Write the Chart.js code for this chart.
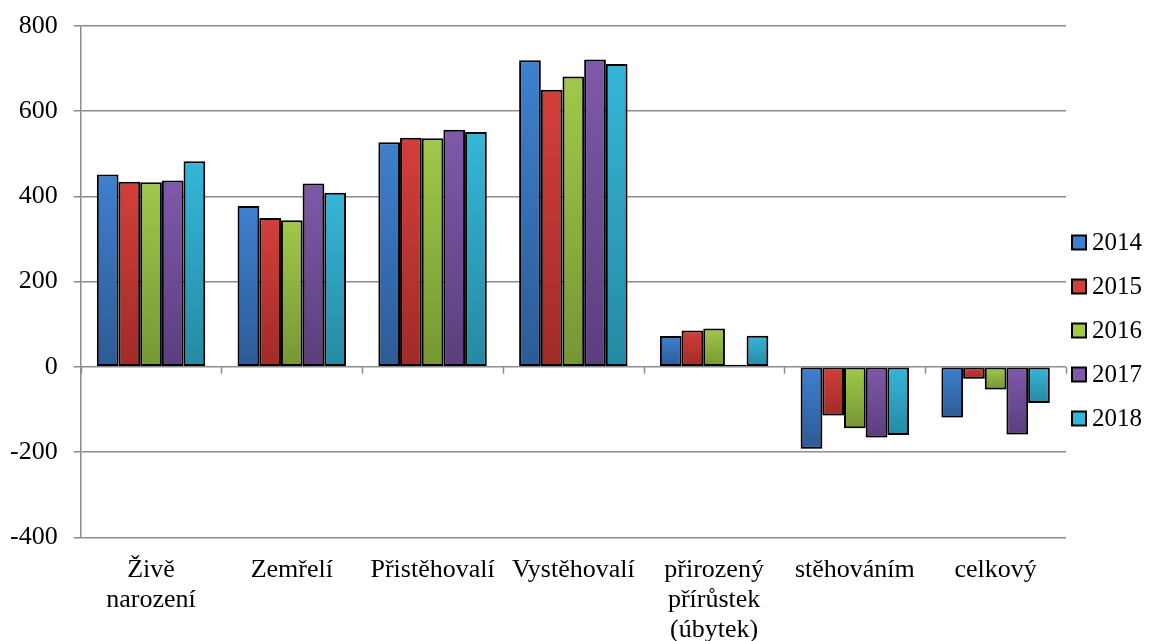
<!DOCTYPE html>
<html>
<head>
<meta charset="utf-8">
<script src="https://cdn.jsdelivr.net/npm/chart.js@4"></script>
<style>
  html, body { margin: 0; padding: 0; background: #fff; }
  #wrap { width: 1149px; height: 641px; }
</style>
</head>
<body>
<div id="wrap"><canvas id="bar-chart"></canvas></div>
<script>
const kategorie = [['Živě', 'narození'], 'Zemřelí', 'Přistěhovalí', 'Vystěhovalí', ['přirozený', 'přírůstek', '(úbytek)'], 'stěhováním', 'celkový'];
const roky = ['2014', '2015', '2016', '2017', '2018'];
const r2014 = [451, 377, 527, 719, 72, -192, -119];
const r2015 = [434, 349, 537, 650, 85, -114, -28];
const r2016 = [433, 344, 536, 681, 90, -144, -53];
const r2017 = [437, 430, 556, 721, 5, -166, -159];
const r2018 = [482, 408, 551, 710, 73, -160, -85];
const yTicks = [-400, -200, 0, 200, 400, 600, 800];

// barvy: horni (svetlejsi) a dolni (tmavsi) konec prechodu
const barvy = [
    ['#3e80d0', '#2c5b96'],
    ['#d33f3b', '#a02b28'],
    ['#a0c94a', '#769633'],
    ['#7e59aa', '#5b3e7e'],
    ['#35b6d8', '#258aa3'],
];

const serif = '"Liberation Serif", "Times New Roman", serif';

function gradient(ctx, i){
    const chart = ctx.chart;
    const y = chart.scales.y;
    if (!y || ctx.type !== 'data') return barvy[i][0];
    const v = ctx.raw;
    const top = y.getPixelForValue(Math.max(v, 0));
    const bottom = y.getPixelForValue(Math.min(v, 0));
    if (!isFinite(top) || !isFinite(bottom) || top === bottom) return barvy[i][0];
    const g = chart.ctx.createLinearGradient(0, top, 0, bottom);
    g.addColorStop(0, barvy[i][0]);
    g.addColorStop(1, barvy[i][1]);
    return g;
}

const radky = [r2014, r2015, r2016, r2017, r2018];
const datasets = radky.map((data, i)=>({
    label: roky[i],
    data: data,
    backgroundColor: (ctx)=>gradient(ctx, i),
    borderColor: '#000',
    borderWidth: 2,
    borderSkipped: false,
    barPercentage: 1,
    categoryPercentage: 0.77,
}));

// znacky na nulove ose + stin pod sloupci
const osa = {
    id: 'osa',
    beforeDatasetsDraw(chart){
        const c = chart.ctx;
        const x = chart.scales.x;
        const y0 = chart.scales.y.getPixelForValue(0);
        c.save();
        c.strokeStyle = '#8c8c8c';
        c.lineWidth = 1.5;
        const n = kategorie.length;
        const w = (x.right - x.left) / n;
        c.beginPath();
        for (let i = 0; i <= n; i++) {
            const px = Math.round(x.left + i * w) + 0.5;
            c.moveTo(px, y0);
            c.lineTo(px, y0 + 7);
        }
        c.stroke();
        c.restore();
        c.save();
        c.shadowColor = 'rgba(0,0,0,0.3)';
        c.shadowBlur = 5;
        c.shadowOffsetX = 0;
        c.shadowOffsetY = 3;
    },
    afterDatasetsDraw(chart){
        chart.ctx.restore();
    }
};

// legenda vpravo, tesne u grafu jako v Excelu
const legenda = {
    id: 'legenda',
    afterDraw(chart){
        const c = chart.ctx;
        const x0 = chart.chartArea.right + 6;
        const mid = chart.height / 2 + 10;
        const krok = 44;
        c.save();
        c.font = '25px ' + serif;
        c.textBaseline = 'middle';
        chart.data.datasets.forEach((ds, i)=>{
            const y = mid + (i - 2) * krok;
            c.fillStyle = barvy[i][0];
            c.fillRect(x0, y - 7, 14, 14);
            c.strokeStyle = '#000';
            c.lineWidth = 2;
            c.strokeRect(x0, y - 7, 14, 14);
            c.fillStyle = '#000';
            c.fillText(ds.label, x0 + 20, y + 1);
        });
        c.restore();
    }
};

new Chart(document.querySelector('#bar-chart'), {
    type: 'bar',
    data: { labels: kategorie, datasets: datasets },
    options: {
        responsive: true,
        maintainAspectRatio: false,
        animation: false,
        layout: { padding: { top: 0, right: 83, bottom: -22, left: -6 } },
        plugins: {
            tooltip: { enabled: false },
            legend: { display: false }
        },
        scales: {
            x: {
                grid: { display: false, drawTicks: false },
                border: { display: false },
                ticks: {
                    color: '#000',
                    font: { family: serif, size: 26, lineHeight: 1.15 },
                    padding: 18,
                    maxRotation: 0,
                    autoSkip: false,
                }
            },
            y: {
                min: -400,
                max: 800,
                afterBuildTicks(axis){
                    axis.ticks = yTicks.map(v=>({ value: v }));
                },
                grid: { color: '#8c8c8c', lineWidth: 1.5, tickLength: 7 },
                border: { color: '#8c8c8c', width: 1.5 },
                ticks: {
                    color: '#000',
                    font: { family: serif, size: 26, lineHeight: 0.75 },
                    padding: 16,
                }
            }
        }
    },
    plugins: [osa, legenda]
});
</script>
</body>
</html>
